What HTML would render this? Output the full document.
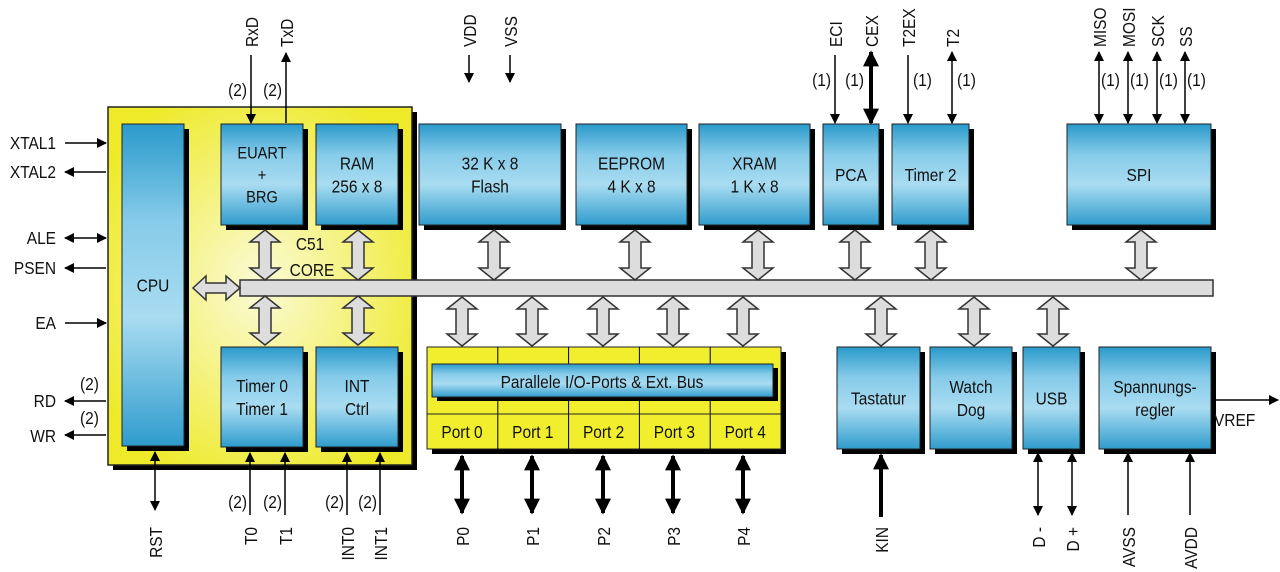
<!DOCTYPE html>
<html><head><meta charset="utf-8">
<style>
html,body{margin:0;padding:0;background:#fff;width:1280px;height:572px;overflow:hidden}
svg text{font-family:"Liberation Sans",sans-serif;fill:#111}
</style></head>
<body>
<svg id="s" width="1280" height="572" viewBox="0 0 1280 572" xmlns="http://www.w3.org/2000/svg">
<defs>
<linearGradient id="bl" x1="0" y1="0" x2="0" y2="1">
<stop offset="0" stop-color="#2a9acb"/><stop offset="0.3" stop-color="#86cbe9"/><stop offset="0.6" stop-color="#a9dcf1"/><stop offset="1" stop-color="#2f9ccd"/>
</linearGradient>
<radialGradient id="yl" cx="0.5" cy="0.5" r="0.6">
<stop offset="0" stop-color="#fbfbd8"/><stop offset="1" stop-color="#eeea2a"/>
</radialGradient>
<marker id="ah" viewBox="0 0 10 10" refX="9" refY="5" markerWidth="10" markerHeight="11" orient="auto-start-reverse" markerUnits="userSpaceOnUse"><path d="M0,0L10,5L0,10z" fill="#000"/></marker>
<marker id="ahb" viewBox="0 0 10 10" refX="9" refY="5" markerWidth="4" markerHeight="4" orient="auto-start-reverse"><path d="M0,0L10,5L0,10z" fill="#000"/></marker>
</defs>
<g id="g"></g>
</svg>
<script>
var g=document.getElementById('g'),h='';
var SX=0.86;
function T(x,y,t,anc,fs,rot){fs=fs||18;
h+='<text transform="translate('+x+','+y+')'+(rot?' rotate(-90)':'')+' scale('+SX+',1)" font-size="'+fs+'" text-anchor="'+(anc||'start')+'">'+t+'</text>';}
function box(x,y,w,hh,lines,fs){fs=fs||18;
h+='<rect x="'+(x+5)+'" y="'+(y+5)+'" width="'+w+'" height="'+hh+'" fill="#000"/>';
h+='<rect x="'+x+'" y="'+y+'" width="'+w+'" height="'+hh+'" fill="url(#bl)" stroke="#222" stroke-width="1"/>';
var n=lines.length,lh=fs*1.3,cy=y+hh/2-(n-1)*lh/2+fs*0.36;
lines.forEach(function(t,i){T(x+w/2,cy+i*lh,t,'middle',fs);});}
function dbl(x,y1,y2){var w=15,s=6,hd=12;
h+='<path d="M'+x+','+y1+' L'+(x+w)+','+(y1+hd)+' L'+(x+s)+','+(y1+hd)+' L'+(x+s)+','+(y2-hd)+' L'+(x+w)+','+(y2-hd)+' L'+x+','+y2+' L'+(x-w)+','+(y2-hd)+' L'+(x-s)+','+(y2-hd)+' L'+(x-s)+','+(y1+hd)+' L'+(x-w)+','+(y1+hd)+'Z" fill="#ddd" stroke="#333" stroke-width="1.5"/>';}
function ln(x1,y1,x2,y2,s,e,w){w=w||1.5;var m=w>2?'ahb':'ah';
h+='<line x1="'+x1+'" y1="'+y1+'" x2="'+x2+'" y2="'+y2+'" stroke="#000" stroke-width="'+w+'"'+(s?' marker-start="url(#'+m+')"':'')+(e?' marker-end="url(#'+m+')"':'')+'/>';}
function vt(x,y,t,anc){T(x,y,t,anc,18,true);}
function tx(x,y,t,anc,fs){T(x,y,t,anc,fs||18);}
// core
h+='<rect x="113" y="112" width="304" height="358" fill="#000"/>';
h+='<rect x="108" y="107" width="304" height="358" fill="url(#yl)" stroke="#222" stroke-width="1.5"/>';
box(122,124,62,322,['CPU']);
box(221,124,82,101,['EUART','+','BRG'],17);
box(316,124,82,101,['RAM','256 x 8']);
box(221,347,82,100,['Timer 0','Timer 1']);
box(316,347,82,100,['INT','Ctrl']);
tx(310,250,'C51','middle');tx(312,276,'CORE','middle');
box(419,124,142,101,['32 K x 8','Flash']);
box(576,124,111,101,['EEPROM','4 K x 8']);
box(699,124,111,101,['XRAM','1 K x 8']);
box(823,124,56,101,['PCA']);
box(892,124,77,101,['Timer 2']);
box(1067,124,144,101,['SPI']);
// bus
h+='<rect x="240" y="280" width="973" height="16" fill="#ddd" stroke="#333" stroke-width="1.5"/>';
h+='<path d="M193,288 L206,276 L206,283 L226,283 L226,276 L240,288 L226,300 L226,293 L206,293 L206,300Z" fill="#ddd" stroke="#333" stroke-width="1.5"/>';
[265,358,494,635,758,855,931,1141].forEach(function(x){dbl(x,230,280);});
[265,358].forEach(function(x){dbl(x,296,345);});
[462,532,603,673,743,881,974,1053].forEach(function(x){dbl(x,297,346);});
// ports block
h+='<rect x="432" y="352" width="354" height="102" fill="#000"/>';
h+='<rect x="427" y="347" width="354" height="102" fill="#f1ee2e" stroke="#222" stroke-width="1"/>';
for(var i=1;i<5;i++){var px=427+i*70.8;ln(px,347,px,364,0,0,1);ln(px,398,px,449,0,0,1);}
h+='<line x1="427" y1="414" x2="781" y2="414" stroke="#222" stroke-width="1"/>';
h+='<rect x="437" y="368" width="341" height="33" fill="#000"/>';
h+='<rect x="432" y="364" width="341" height="33" fill="url(#bl)" stroke="#222" stroke-width="1"/>';
tx(602,388,'Parallele I/O-Ports &amp; Ext. Bus','middle');
for(var i=0;i<5;i++)tx(462+i*70.8,438,'Port '+i,'middle');
box(837,347,83,102,['Tastatur']);
box(930,347,82,102,['Watch','Dog']);
box(1023,347,57,102,['USB']);
box(1099,347,112,102,['Spannungs-','regler']);
// left signals
ln(65,143,106,143,0,1);tx(56,149,'XTAL1','end');
ln(106,172,65,172,0,1);tx(56,178,'XTAL2','end');
ln(65,238,106,238,1,1);tx(56,244,'ALE','end');
ln(106,268,65,268,0,1);tx(56,274,'PSEN','end');
ln(65,323,106,323,0,1);tx(56,329,'EA','end');
ln(106,401,65,401,0,1);tx(56,407,'RD','end');tx(80,390,'(2)','start');
ln(106,435,65,435,0,1);tx(56,442,'WR','end');tx(80,424,'(2)','start');
// top signals
ln(251,55,251,123,0,1);vt(258,47,'RxD','start');tx(247,96,'(2)','end');
ln(286,123,286,53,0,1);vt(293,47,'TxD','start');tx(282,96,'(2)','end');
ln(469,55,469,82,0,1);vt(476,47,'VDD','start');
ln(510,55,510,82,0,1);vt(517,47,'VSS','start');
ln(835,55,835,123,0,1);vt(842,47,'ECI','start');tx(831,86,'(1)','end');
ln(871,52,871,123,1,1,4);vt(878,47,'CEX','start');tx(864,86,'(1)','end');
ln(908,55,908,123,0,1);vt(915,47,'T2EX','start');tx(913,86,'(1)','start');
ln(952,52,952,123,1,1);vt(959,47,'T2','start');tx(957,86,'(1)','start');
[[1099,'MISO'],[1128,'MOSI'],[1157,'SCK'],[1185,'SS']].forEach(function(a){ln(a[0],52,a[0],123,1,1);vt(a[0]+7,47,a[1],'start');tx(a[0]+2,86,'(1)','start');});
// bottom signals
ln(155,452,155,510,1,1);vt(162,527,'RST','end');
[[250,'T0'],[285,'T1'],[347,'INT0'],[380,'INT1']].forEach(function(a){ln(a[0],515,a[0],453,0,1);vt(a[0]+7,527,a[1],'end');tx(a[0]-3,508,'(2)','end');});
[462,532,603,673,743].forEach(function(x,i){ln(x,456,x,513,1,1,4);vt(x+7,527,'P'+i,'end');});
ln(881,517,881,455,0,1,4);vt(888,527,'KIN','end');
ln(1038,453,1038,515,1,1);vt(1045,527,'D -','end');
ln(1072,453,1072,515,1,1);vt(1079,527,'D +','end');
ln(1128,515,1128,453,0,1);vt(1135,527,'AVSS','end');
ln(1190,515,1190,453,0,1);vt(1197,527,'AVDD','end');
ln(1216,400,1278,400,0,1);tx(1214,426,'VREF','start');
g.innerHTML=h;
</script>
</body></html>
